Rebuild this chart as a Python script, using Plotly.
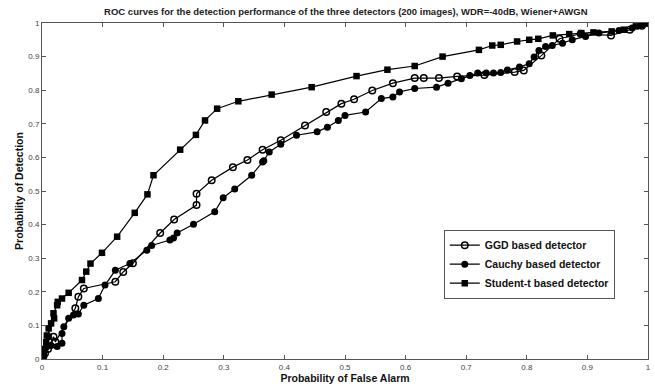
import plotly.graph_objects as go

title = "ROC curves for the detection performance of the three detectors (200 images), WDR=-40dB, Wiener+AWGN"
x_label = "Probability of False Alarm"
y_label = "Probability of Detection"
tick_vals = [0, 0.1, 0.2, 0.3, 0.4, 0.5, 0.6, 0.7, 0.8, 0.9, 1]
tick_text = ["0", "0.1", "0.2", "0.3", "0.4", "0.5", "0.6", "0.7", "0.8", "0.9", "1"]

ggd_pfa = [0.0, 0.005, 0.010, 0.019, 0.022, 0.055, 0.060, 0.069, 0.121, 0.134, 0.150,
           0.195, 0.218, 0.255, 0.255, 0.280, 0.315, 0.339, 0.364, 0.394, 0.434, 0.469,
           0.494, 0.515, 0.545, 0.579, 0.615, 0.630, 0.655, 0.685, 0.730, 0.780, 0.795,
           0.824, 0.854, 0.889, 0.939, 0.970, 0.990, 1.0]
ggd_pd = [0.0, 0.017, 0.030, 0.066, 0.051, 0.151, 0.185, 0.210, 0.230, 0.259, 0.285,
          0.375, 0.415, 0.458, 0.492, 0.532, 0.571, 0.592, 0.623, 0.651, 0.695, 0.735,
          0.760, 0.773, 0.799, 0.821, 0.836, 0.836, 0.836, 0.841, 0.845, 0.854, 0.859,
          0.903, 0.953, 0.968, 0.963, 0.980, 0.992, 1.0]

cauchy_pfa = [0.0, 0.003, 0.008, 0.015, 0.025, 0.033, 0.033, 0.036, 0.044, 0.052, 0.060,
              0.069, 0.093, 0.104, 0.121, 0.145, 0.173, 0.181, 0.211, 0.217, 0.223, 0.250,
              0.285, 0.299, 0.318, 0.346, 0.364, 0.366, 0.375, 0.394, 0.420, 0.454, 0.471,
              0.489, 0.500, 0.534, 0.560, 0.579, 0.590, 0.615, 0.651, 0.670, 0.692, 0.706,
              0.719, 0.733, 0.745, 0.757, 0.768, 0.788, 0.804, 0.812, 0.820, 0.831, 0.842,
              0.859, 0.875, 0.897, 0.919, 0.952, 0.974, 0.990, 1.0]
cauchy_pd = [0.0, 0.007, 0.037, 0.040, 0.037, 0.047, 0.076, 0.096, 0.121, 0.131, 0.134,
             0.160, 0.180, 0.220, 0.264, 0.284, 0.324, 0.338, 0.354, 0.360, 0.375, 0.401,
             0.438, 0.480, 0.506, 0.547, 0.586, 0.590, 0.616, 0.639, 0.666, 0.676, 0.690,
             0.710, 0.725, 0.735, 0.775, 0.780, 0.795, 0.805, 0.809, 0.821, 0.834, 0.844,
             0.851, 0.851, 0.851, 0.853, 0.860, 0.869, 0.879, 0.899, 0.918, 0.930, 0.933,
             0.940, 0.950, 0.960, 0.970, 0.978, 0.985, 0.995, 1.0]

student_pfa = [0.0, 0.003, 0.005, 0.007, 0.008, 0.011, 0.011, 0.015, 0.020, 0.019, 0.025,
               0.026, 0.033, 0.044, 0.066, 0.073, 0.080, 0.099, 0.124, 0.153, 0.174, 0.184,
               0.228, 0.254, 0.269, 0.289, 0.324, 0.379, 0.445, 0.519, 0.570, 0.615, 0.661,
               0.721, 0.743, 0.757, 0.784, 0.804, 0.819, 0.843, 0.870, 0.890, 0.910, 0.940,
               0.960, 0.980, 0.990, 1.0]
student_pd = [0.0, 0.012, 0.030, 0.050, 0.070, 0.066, 0.091, 0.106, 0.121, 0.136, 0.160,
              0.170, 0.180, 0.197, 0.235, 0.260, 0.284, 0.316, 0.364, 0.435, 0.490, 0.547,
              0.623, 0.667, 0.710, 0.745, 0.767, 0.787, 0.809, 0.842, 0.861, 0.872, 0.900,
              0.920, 0.933, 0.935, 0.945, 0.950, 0.953, 0.963, 0.967, 0.970, 0.972, 0.975,
              0.980, 0.990, 0.995, 1.0]

series_names = ["GGD based detector", "Cauchy based detector", "Student-t based detector"]

FONT = "Liberation Sans, Arial"

fig = go.Figure()
fig.add_trace(go.Scatter(
    x=ggd_pfa, y=ggd_pd, mode="lines+markers", name=series_names[0],
    line=dict(color="black", width=1.2),
    marker=dict(symbol="circle-open", size=6.5, color="black", line=dict(width=1.5)),
))
fig.add_trace(go.Scatter(
    x=cauchy_pfa, y=cauchy_pd, mode="lines+markers", name=series_names[1],
    line=dict(color="black", width=1.2),
    marker=dict(symbol="circle", size=7, color="black"),
))
fig.add_trace(go.Scatter(
    x=student_pfa, y=student_pd, mode="lines+markers", name=series_names[2],
    line=dict(color="black", width=1.2),
    marker=dict(symbol="square", size=6.5, color="black"),
))

axis_common = dict(
    range=[0, 1], tickvals=tick_vals, ticktext=tick_text, automargin=False,
    showgrid=False, zeroline=False, showline=True, linecolor="#555", linewidth=1,
    mirror="ticks", ticks="inside", ticklen=4, tickcolor="#555",
    tickfont=dict(family=FONT, size=8, color="#444"),
)

fig.update_layout(
    width=655, height=387,
    margin=dict(l=42, r=7, t=22.5, b=28, autoexpand=False),
    paper_bgcolor="white", plot_bgcolor="white",
    hovermode=False,
    title=dict(text="<b>" + title + "</b>", x=0.528, xanchor="center", y=0.969, yanchor="middle",
               font=dict(family=FONT, size=9.5, color="#222")),
    xaxis=dict(**axis_common,
               title=dict(text="<b>" + x_label + "</b>", standoff=4,
                          font=dict(family=FONT, size=10.5, color="#111"))),
    yaxis=dict(**axis_common,
               title=dict(text="<b>" + y_label + "</b>", standoff=2,
                          font=dict(family=FONT, size=10.5, color="#111"))),
    legend=dict(x=0.663, y=0.385, xanchor="left", yanchor="top",
                bgcolor="white", bordercolor="#555", borderwidth=1,
                font=dict(family=FONT, size=10.5, color="#111", weight="bold"),
                tracegroupgap=0, itemwidth=30),
    showlegend=True,
)

# remove the default 8px page margin so the 655x387 figure fills the window exactly
fig.write_html("out.html", config={"displayModeBar": False},
               post_script="document.body.style.margin='0';")
